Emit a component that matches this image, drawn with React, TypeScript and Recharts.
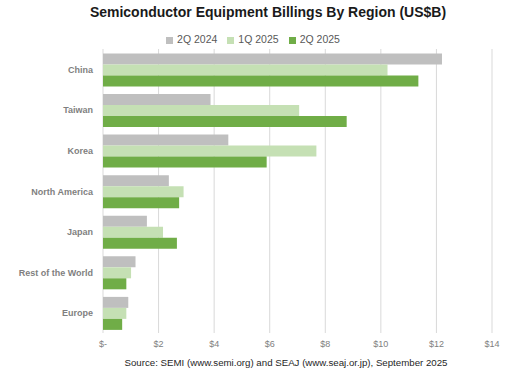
import React from 'react'
import { BarChart, Bar, XAxis, YAxis, CartesianGrid, Legend } from 'recharts'

const regions = ['China', 'Taiwan', 'Korea', 'North America', 'Japan', 'Rest of the World', 'Europe']
const q2024 = [12.2, 3.87, 4.51, 2.37, 1.58, 1.17, 0.91]
const q1_2025 = [10.24, 7.06, 7.68, 2.9, 2.16, 1.01, 0.84]
const q2_2025 = [11.35, 8.77, 5.89, 2.74, 2.66, 0.84, 0.69]
const xTicks = [0, 2, 4, 6, 8, 10, 12, 14]

const data = regions.map((region, i) => ({
  region,
  s1: q2024[i],
  s2: q1_2025[i],
  s3: q2_2025[i],
}))

const fmt = (v: number) => (v === 0 ? '$-' : `$${v}`)

const RegionTick = (props: any) => {
  const { x, y, payload } = props
  return (
    <text x={x} y={y} dy={3.5} textAnchor="end" fill="#7f7f7f" fontSize={9} fontWeight="bold">
      {payload.value}
    </text>
  )
}

export default function App() {
  return (
    <div style={{ position: 'absolute', left: 0, top: 0, width: 506, height: 376, background: '#fff', fontFamily: '"Liberation Sans", Arial, sans-serif' }}>
      <div style={{ position: 'absolute', top: 4, left: 0, width: 536, textAlign: 'center', fontSize: 14, fontWeight: 'bold', color: '#1a1a1a' }}>
        Semiconductor Equipment Billings By Region (US$B)
      </div>
      <BarChart
        width={506}
        height={376}
        data={data}
        layout="vertical"
        margin={{ top: 37, right: 14, bottom: 23, left: 0 }}
        barCategoryGap="11%"
        barGap={0}
      >
        <Legend
          verticalAlign="top"
          align="center"
          iconType="square"
          iconSize={7}
          itemSorter="dataKey"
          wrapperStyle={{ top: 33, left: 0, width: 516, fontSize: 10.5, color: '#595959' }}
          formatter={(v) => <span style={{ color: '#595959' }}>{v}</span>}
        />
        <CartesianGrid horizontal={false} stroke="#d9d9d9" />
        <XAxis
          type="number"
          domain={[0, 14]}
          ticks={xTicks}
          tickFormatter={fmt}
          axisLine={false}
          tickLine={false}
          height={20}
          tick={{ fill: '#808080', fontSize: 9 }}
        />
        <YAxis
          type="category"
          dataKey="region"
          width={103}
          axisLine={false}
          tickLine={false}
          tick={<RegionTick />}
          tickMargin={4}
        />
        <Bar dataKey="s1" name="2Q 2024" fill="#bfbfbf" isAnimationActive={false} />
        <Bar dataKey="s2" name="1Q 2025" fill="#c5e0b4" isAnimationActive={false} />
        <Bar dataKey="s3" name="2Q 2025" fill="#70ad47" isAnimationActive={false} />
      </BarChart>
      <div style={{ position: 'absolute', top: 357, left: 0, width: 572, textAlign: 'center', fontSize: 9.7, color: '#262626' }}>
        Source: SEMI (www.semi.org) and SEAJ (www.seaj.or.jp), September 2025
      </div>
    </div>
  )
}
